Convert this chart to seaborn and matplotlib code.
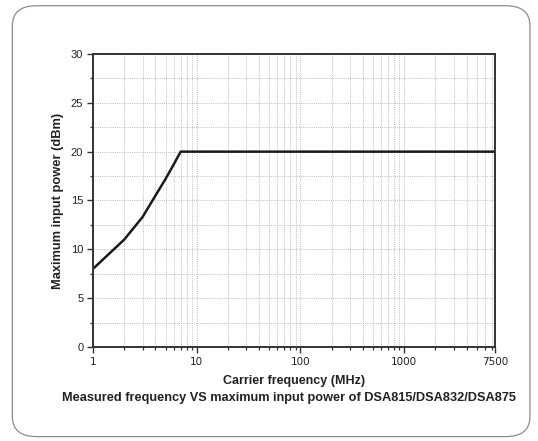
import matplotlib
matplotlib.use("Agg")
import matplotlib.pyplot as plt
from matplotlib.patches import FancyBboxPatch
from matplotlib.ticker import FixedLocator, LogLocator, NullFormatter, MultipleLocator
import seaborn as sns
import pandas as pd

# Maximum safe input power versus carrier frequency
freq_mhz = [1, 2, 3, 4, 5, 6, 7, 7500]
max_power_dbm = [8.0, 11.0, 13.3, 15.5, 17.2, 18.7, 20.0, 20.0]
x_tick_values = [1, 10, 100, 1000, 7500]
x_tick_labels = ["1", "10", "100", "1000", "7500"]

sns.set_theme(style="white")
plt.rcParams["font.family"] = ["Liberation Sans", "DejaVu Sans"]

df = pd.DataFrame({"freq": freq_mhz, "power": max_power_dbm})

fig = plt.figure(figsize=(5.38, 4.41), dpi=100)
fig.patch.set_facecolor("white")

# rounded panel border around the whole figure
panel = FancyBboxPatch((0.023, 0.010), 0.962, 0.977,
                       boxstyle="round,pad=0,rounding_size=0.045",
                       transform=fig.transFigure, facecolor="none",
                       edgecolor="#8c8c8c", linewidth=0.9, zorder=-1)
fig.patches.append(panel)

ax = fig.add_axes([0.1729, 0.2132, 0.7471, 0.6644])
sns.lineplot(data=df, x="freq", y="power", ax=ax, color="#1a1a1a",
             linewidth=1.8, estimator=None, sort=False)

ax.set_xscale("log")
ax.set_xlim(1, 7500)
ax.set_ylim(0, 30)

ax.xaxis.set_major_locator(FixedLocator(x_tick_values))
ax.set_xticklabels(x_tick_labels, family="Liberation Sans Narrow", fontsize=7.5)
ax.xaxis.set_minor_locator(LogLocator(base=10, subs=range(2, 10), numticks=20))
ax.xaxis.set_minor_formatter(NullFormatter())

ax.yaxis.set_major_locator(MultipleLocator(5))
ax.yaxis.set_minor_locator(MultipleLocator(2.5))
for lab in ax.get_yticklabels():
    lab.set_fontsize(8)

ax.tick_params(axis="both", which="major", direction="out", length=4,
               width=1.0, color="#333333", labelcolor="#222222", pad=3,
               bottom=True, left=True)
ax.tick_params(axis="both", which="minor", direction="out", length=2.5,
               width=0.9, color="#333333", bottom=True, left=True)

ax.grid(True, which="both", axis="both", color="#bdbdbd",
        linestyle=(0, (1, 1.2)), linewidth=0.7)

for side in ["left", "right", "top", "bottom"]:
    ax.spines[side].set_visible(True)
    ax.spines[side].set_color("#333333")
    ax.spines[side].set_linewidth(1.4)

ax.set_xlabel("Carrier frequency (MHz)", fontsize=9, fontweight="bold",
              color="#222222", labelpad=6)
ax.set_ylabel("Maximum input power (dBm)", fontsize=9.3, fontweight="bold",
              color="#222222", labelpad=5)

fig.text(0.537, 0.097,
         "Measured frequency VS maximum input power of DSA815/DSA832/DSA875",
         ha="center", va="center", fontsize=9.2, fontweight="bold",
         color="#222222")

fig.savefig("out.png", dpi=100, facecolor="white")
